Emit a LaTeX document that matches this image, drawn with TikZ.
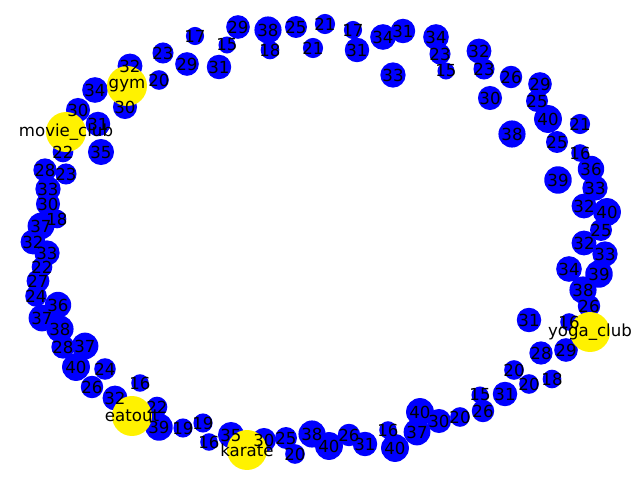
\documentclass[tikz,border=0pt]{standalone}
\usepackage{fontspec}
\setmainfont{DejaVu Sans}

% member nodes: x/y/age
\def\members{195/36/17, 163/53/23, 187/64/29, 159/80/20, 130/66/32, 125/107/30,
  95/90/34, 78/110/30, 98/124/31, 63/152/22, 101/152/35, 45/170/28, 66/174/23,
  48/189/33, 48/204/30, 57/219/18, 41/226/37, 33/242/32, 47/253/33, 42/267/22,
  38/281/27, 36/296/24, 58/305/36, 42/318/37, 60/329/38, 63/347/28, 85/346/37,
  76/367/40, 105/369/24, 92/387/26, 140/383/16, 115/398/32, 157/407/22,
  159/427/39, 183/428/19, 203/423/19, 209/442/16, 231/435/35, 264/440/30,
  286/438/25, 295/454/20, 312/434/38, 329/446/40, 349/435/26, 365/444/31,
  388/430/16, 395/448/40, 417/432/37, 420/412/40, 439/421/30, 460/417/20,
  483/411/26, 480/395/15, 505/394/31, 529/384/20, 514/370/20, 552/379/18,
  541/353/28, 566/350/29, 529/320/31, 569/322/16, 589/306/26, 583/290/38,
  599/274/39, 569/269/34, 605/254/33, 584/243/32, 601/230/25, 607/212/40,
  584/206/32, 595/188/33, 558/180/39, 591/169/36, 580/153/16, 557/142/25,
  580/124/21, 548/119/40, 512/134/38, 537/101/25, 540/84/29, 490/98/30,
  511/77/26, 484/69/23, 479/51/32, 446/71/15, 440/54/23, 436/37/34,
  403/31/31, 383/37/34, 393/75/33, 357/50/31, 353/30/17, 325/24/21,
  313/48/21, 296/27/25, 270/50/18, 268/30/38, 238/27/29, 227/45/15, 219/67/31}

\begin{document}
\begin{tikzpicture}[
    x=0.0254cm, y=-0.0254cm,
    member/.style={circle, fill=blue, inner sep=0pt},
    club/.style={circle, fill=yellow, inner sep=0pt, minimum size=1.016cm},
    lbl/.style={font=\fontsize{12}{14}\selectfont, inner sep=0pt}
]
    \useasboundingbox (0,0) rectangle (640,480);

    % Members, size by age
    \foreach \x/\y/\v [count=\i] in \members {
        \pgfmathsetmacro\d{0.11176*sqrt(\v)}
        \node[member, minimum size=\d cm] (m\i) at (\x,\y) {};
    }

    % Clubs
    \node[club] (gym) at (127,86) {};
    \node[club] (movie) at (66,132) {};
    \node[club] (yoga) at (590,332) {};
    \node[club] (eatout) at (132,416) {};
    \node[club] (karate) at (247,450) {};

    % Labels on top
    \foreach \x/\y/\v [count=\i] in \members {
        \node[lbl] at (m\i) {\v};
    }
    \node[lbl] at (gym) {gym};
    \node[lbl] at (movie) {movie\_club};
    \node[lbl] at (yoga) {yoga\_club};
    \node[lbl] at (eatout) {eatout};
    \node[lbl] at (karate) {karate};
\end{tikzpicture}
\end{document}
